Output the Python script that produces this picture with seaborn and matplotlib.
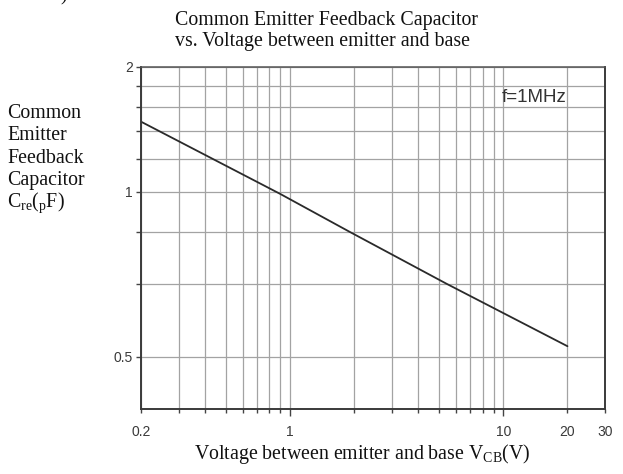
import numpy as np
import matplotlib
matplotlib.use("Agg")
import matplotlib.pyplot as plt
import seaborn as sns
from matplotlib.ticker import FixedLocator, FuncFormatter, NullFormatter

# ---- data ----
vcb = [0.2, 0.9, 1.9, 5.4, 20.0]
cre = [1.474, 0.99, 0.845, 0.68, 0.523]

x_major = [1, 10]
x_minor = [0.2, 0.3, 0.4, 0.5, 0.6, 0.7, 0.8, 0.9, 2, 3, 4, 5, 6, 7, 8, 9, 20, 30]
x_labels = {0.2: "0.2", 1: "1", 10: "10", 20: "20", 30: "30"}
y_major = [0.5, 1, 2]
y_minor = [0.68, 0.845, 1.2, 1.4, 1.6, 1.8]
y_labels = {0.5: "0.5", 1: "1", 2: "2"}

title_lines = ["Common Emitter Feedback Capacitor", "vs. Voltage between emitter and base"]
ylabel_lines = ["Common", "Emitter", "Feedback", "Capacitor",
                r"C$_{\mathrm{re}}$($_{\mathrm{p}}$F)"]
xlabel = r"Voltage between emitter and base V$_{\mathrm{CB}}$(V)"
note = "f=1MHz"

# ---- style ----
sns.set_style("ticks")
plt.rcParams["font.family"] = ["Liberation Sans", "DejaVu Sans"]
plt.rcParams["mathtext.fontset"] = "custom"
plt.rcParams["mathtext.rm"] = "Liberation Serif"
plt.rcParams["mathtext.it"] = "Liberation Serif:italic"
plt.rcParams["mathtext.bf"] = "Liberation Serif:bold"

W, H = 623, 474
PT = 0.72  # points per pixel at dpi 100
fig = plt.figure(figsize=(W / 100, H / 100), dpi=100)
L, R, T, B = 141, 605, 66.7, 409
ax = fig.add_axes([L / W, 1 - B / H, (R - L) / W, (B - T) / H])

K = 550.0 / 415.2

def fwd(y):
    y = np.asarray(y, dtype=float)
    ly = np.log10(np.clip(y, 1e-12, None))
    return np.where(ly < 0, ly * K, ly)

def inv(v):
    v = np.asarray(v, dtype=float)
    return np.where(v < 0, 10 ** (v / K), 10 ** v)

ax.set_xscale("log")
ax.set_yscale("function", functions=(fwd, inv))

sns.lineplot(x=vcb, y=cre, ax=ax, color="#2a2a2a", lw=1.3)

ax.set_xlim(0.2, 30)
ax.set_ylim(0.402, 2.0)

fmt_x = FuncFormatter(lambda v, p: next((s for k, s in x_labels.items() if abs(v - k) < 1e-6 * k), ""))
fmt_y = FuncFormatter(lambda v, p: next((s for k, s in y_labels.items() if abs(v - k) < 1e-6 * k), ""))

ax.xaxis.set_major_locator(FixedLocator(x_major))
ax.xaxis.set_minor_locator(FixedLocator(x_minor))
ax.xaxis.set_major_formatter(fmt_x)
ax.xaxis.set_minor_formatter(fmt_x)
ax.yaxis.set_major_locator(FixedLocator(y_major))
ax.yaxis.set_minor_locator(FixedLocator(y_minor))
ax.yaxis.set_major_formatter(fmt_y)
ax.yaxis.set_minor_formatter(NullFormatter())

tc = "#3a3a3a"
ax.tick_params(axis="x", which="major", length=7 * PT, width=1.0, pad=9 * PT, color="#444444",
               labelsize=10, labelcolor=tc)
ax.tick_params(axis="x", which="minor", length=4 * PT, width=1.0, pad=12 * PT, color="#444444",
               labelsize=10, labelcolor=tc)
ax.tick_params(axis="y", which="both", length=5 * PT, width=1.0, pad=3 * PT, color="#444444",
               labelsize=10, labelcolor=tc)

ax.grid(which="both", axis="both", color="#a3a3a3", lw=0.9)
for s in ax.spines.values():
    s.set_visible(True)
    s.set_color("#3a3a3a")
    s.set_linewidth(1.4)
ax.spines["top"].set_color("#555555")
ax.spines["top"].set_linewidth(1.1)

ax.set_xlabel("")
ax.set_ylabel("")

ax.text((502 - L) / (R - L), (B - 97) / (B - T), note, transform=ax.transAxes,
        fontsize=13.5, color="#333333", ha="left", va="center",
        family=["Liberation Sans", "DejaVu Sans"])

serif = ["Liberation Serif", "DejaVu Serif"]
def ftext(x, y, s, **kw):
    fig.text(x / W, 1 - y / H, s, family=serif, fontsize=14.3, color="#111111",
             va="baseline", **kw)

for i, line in enumerate(title_lines):
    ftext(175, 25 + 21 * i, line, ha="left")
for i, line in enumerate(ylabel_lines):
    ftext(7, 118 + 22.3 * i, line, ha="left")
ftext(362, 459, xlabel, ha="center")
ftext(60, 0, ")", ha="left")

fig.savefig("out.png", dpi=100)
